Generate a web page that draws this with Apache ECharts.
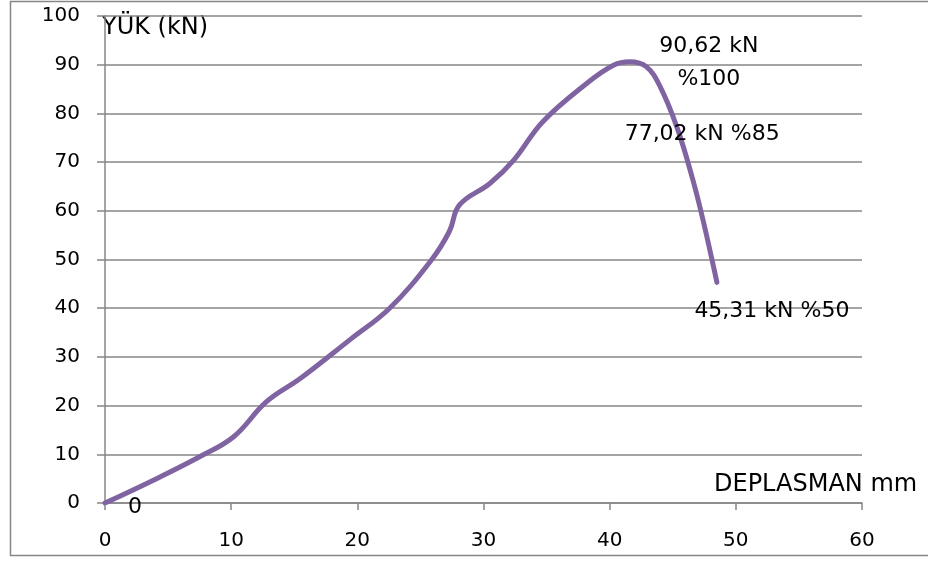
<!DOCTYPE html>
<html>
<head>
<meta charset="utf-8">
<script src="https://cdn.jsdelivr.net/npm/echarts@6/dist/echarts.min.js"></script>
<style>
  html, body { margin: 0; padding: 0; background: #fff; }
  #chart { width: 928px; height: 561px; }
</style>
</head>
<body>
<div id="chart"></div>
<script>
// Load–displacement curve
const displacement = [0, 4, 7.5, 10.2, 12.8, 15.5, 19.4, 22.6, 25.9, 27.3, 28.1, 30.5, 32.4, 34.7, 38.2, 40.3, 41.6, 42.9, 44.0, 45.35, 46.6, 47.4, 48.5];
const load = [0, 4.9, 9.5, 13.6, 20.8, 25.6, 33.5, 40.1, 50, 55.8, 61.2, 65.6, 70.4, 78.3, 86.2, 89.9, 90.62, 89.6, 85.5, 77.02, 66.3, 58.1, 45.31];

// Annotated points: index into the curve, text, offset of the text from the point
const notedIndex = [0, 16, 19, 22];
const notedText = ['0', '90,62 kN\n%100', '77,02 kN %85', '45,31 kN %50'];
const notedOffset = [[30, 10], [79, 7], [25, 12], [55, 34]];

const xTicks = { min: 0, max: 60, interval: 10 };
const yTicks = { min: 0, max: 100, interval: 10 };

const gridGrey = '#868686';
const font = 'DejaVu Sans';

const curve = displacement.map((x, i) => [x, load[i]]);
const notes = notedIndex.map((idx, k) => ({
  value: [displacement[idx], load[idx]],
  label: {
    show: true,
    color: '#000',
    formatter: notedText[k],
    offset: notedOffset[k]
  }
}));

const chart = echarts.init(document.getElementById('chart'), null, { renderer: 'canvas' });
chart.setOption({
  animation: false,
  backgroundColor: '#fff',
  grid: { left: 105, right: 66, top: 16, bottom: 58 },
  xAxis: {
    type: 'value',
    min: xTicks.min, max: xTicks.max, interval: xTicks.interval,
    axisLine: { show: true, onZero: false, lineStyle: { color: gridGrey, width: 1.5 } },
    axisTick: { show: true, length: 7, lineStyle: { color: gridGrey, width: 1.5 } },
    axisLabel: { color: '#000', fontFamily: font, fontSize: 20, margin: 28 },
    splitLine: { show: false }
  },
  yAxis: {
    type: 'value',
    min: yTicks.min, max: yTicks.max, interval: yTicks.interval,
    axisLine: { show: true, lineStyle: { color: gridGrey, width: 1.5 } },
    axisTick: { show: true, length: 8, lineStyle: { color: gridGrey, width: 1.5 } },
    axisLabel: { color: '#000', fontFamily: font, fontSize: 20, margin: 25, padding: [6, 0, 0, 0] },
    splitLine: { show: true, lineStyle: { color: gridGrey, width: 1.5 } }
  },
  series: [
    {
      type: 'line',
      data: curve,
      smooth: 0.4,
      showSymbol: false,
      lineStyle: { color: '#8064A2', width: 5, cap: 'round', join: 'round' },
      z: 3
    },
    {
      type: 'scatter',
      data: notes,
      symbolSize: 1,
      itemStyle: { color: '#fff', opacity: 0 },
      label: {
        position: 'top',
        color: '#000',
        opacity: 1,
        fontFamily: font,
        fontSize: 22,
        lineHeight: 33,
        align: 'center',
        verticalAlign: 'middle'
      },
      silent: true,
      z: 4
    }
  ],
  graphic: [
    {
      type: 'rect',
      shape: { x: 10.5, y: 1.5, width: 940, height: 554 },
      style: { fill: 'none', stroke: gridGrey, lineWidth: 1.5 },
      silent: true,
      z: -1
    },
    {
      type: 'text',
      left: 102, top: 16,
      style: { text: 'YÜK (kN)', fill: '#000', font: '24px "DejaVu Sans"' }
    },
    {
      type: 'text',
      left: 714, top: 473,
      style: { text: 'DEPLASMAN mm', fill: '#000', font: '24px "DejaVu Sans"' }
    }
  ]
});
</script>
</body>
</html>
